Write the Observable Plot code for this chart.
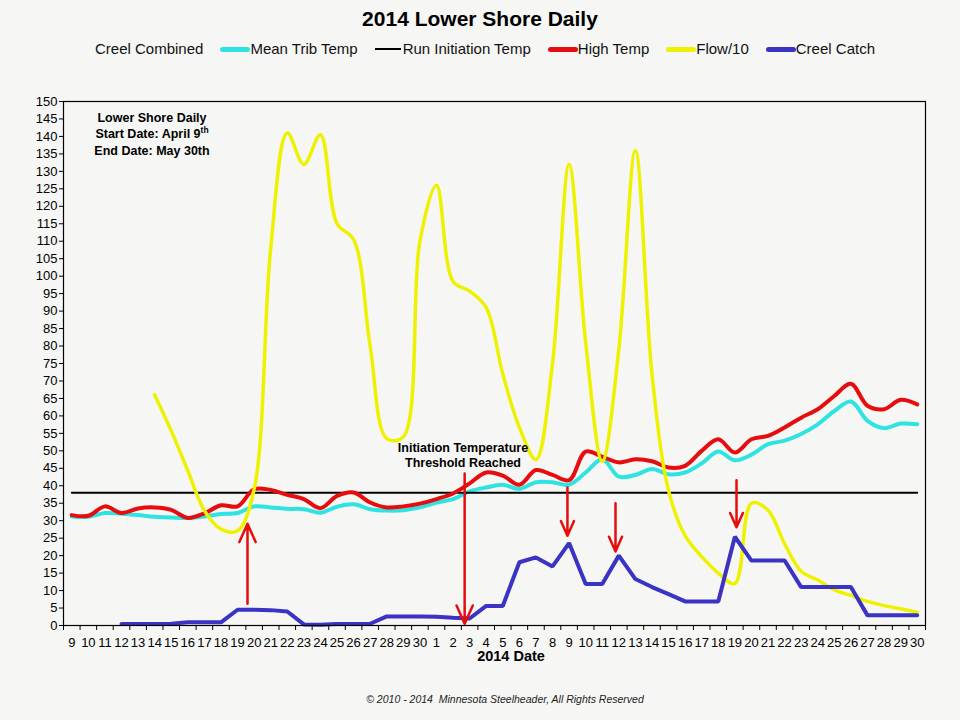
<!DOCTYPE html>
<html>
<head>
<meta charset="utf-8">
<script src="https://cdn.jsdelivr.net/npm/d3@7"></script>
<script src="https://cdn.jsdelivr.net/npm/@observablehq/plot@0.6"></script>
<style>
  body { margin: 0; background: #f6f6f4; font-family: "Liberation Sans", Arial, sans-serif; }
  #wrap { position: relative; width: 960px; height: 720px; overflow: hidden; }
  #chart { position: absolute; left: 0; top: 0; }
  #title { position: absolute; top: 6px; left: 0; width: 960px; text-align: center; font-weight: bold; font-size: 21px; line-height: 26px; color: #000; }
  #legend { position: absolute; top: 40px; left: 95px; display: flex; align-items: center; gap: 17px; font-size: 15px; line-height: 18px; color: #111; white-space: nowrap; }
  .item { display: flex; align-items: center; }
  .sw { display: inline-block; width: 30px; height: 5px; border-radius: 3px; }
  #box { position: absolute; left: 78px; top: 110px; width: 148px; text-align: center; font-weight: bold; font-size: 12.5px; line-height: 16.3px; }
  #box sup { font-size: 8.5px; line-height: 0; vertical-align: 5px; }
  #xtitle { position: absolute; top: 649px; left: 461px; width: 100px; text-align: center; font-weight: bold; font-size: 14.5px; line-height: 15px; }
  #caption { position: absolute; top: 693px; left: 330px; width: 350px; text-align: center; font-size: 10.5px; font-style: italic; color: #222; }
</style>
</head>
<body>
<div id="wrap">
  <div id="chart"></div>
  <div id="title">2014 Lower Shore Daily</div>
  <div id="legend"></div>
  <div id="box">Lower Shore Daily<br>Start Date: April 9<sup>th</sup><br>End Date: May 30th</div>
  <div id="xtitle">2014 Date</div>
  <div id="caption">© 2010 - 2014&nbsp; Minnesota Steelheader, All Rights Reserved</div>
</div>
<script>
// Day labels (April 9 .. April 30, May 1 .. May 30)
const dayLabels = [9,10,11,12,13,14,15,16,17,18,19,20,21,22,23,24,25,26,27,28,29,30,
                   1,2,3,4,5,6,7,8,9,10,11,12,13,14,15,16,17,18,19,20,21,22,23,24,25,26,27,28,29,30];

const meanTribTemp = [31.2,31.1,32.2,32.0,31.6,31.1,30.9,30.8,31.2,31.9,32.2,34.1,33.8,33.4,33.3,32.3,34.0,34.7,
  33.3,32.9,33.0,33.8,35.2,36.2,38.4,39.5,40.3,39.1,41.0,41.0,40.3,43.8,47.6,42.6,43.1,44.8,43.3,43.8,46.4,49.8,
  47.3,48.9,51.9,52.9,54.8,57.6,61.4,64.1,58.6,56.5,57.8,57.6];

const runInitiationTemp = 38;

const highTemp = [31.6,31.4,34.1,32.2,33.5,33.8,33.1,30.8,32.1,34.4,34.1,39.0,38.8,37.4,36.2,33.6,37.1,38.1,
  35.2,33.8,34.1,34.9,36.2,37.8,40.7,43.8,42.9,40.3,44.5,43.1,41.6,49.8,48.3,46.7,47.6,47.0,45.2,45.7,50.0,53.3,
  49.5,53.3,54.3,56.7,59.5,61.9,65.7,69.2,62.9,61.9,64.6,63.3];

const flowDiv10 = [null,null,null,null,null,66,55.7,44.3,32.9,27.6,27.1,39,108,141,132,140.5,115,110.5,
  80,53.5,54,110,126,98.5,95.7,91,72,56.7,47.5,75,132,81,47,79,136,72,38.6,25.7,19.7,15,
  12,35,33,23.4,15.5,13,10.2,8.6,6.9,5.7,4.8,3.8];

const creelCatch = [null,null,null,0.4,0.4,0.4,0.5,0.9,0.9,0.9,4.5,4.5,4.4,4.0,0.3,0.2,0.4,0.4,
  0.5,2.6,2.6,2.6,2.5,2.2,2.0,5.6,5.6,18.1,19.5,16.9,23.6,11.9,11.9,20.0,13.3,11.0,9.0,6.9,6.9,6.9,
  25.4,18.6,18.6,18.6,11.0,11.0,11.0,11.0,2.9,2.9,2.9,2.9];

// Hand-drawn arrow annotations (day index, from value, to value)
const arrowDay  = [10.6, 23.7, 29.9, 32.8, 40.1];
const arrowFrom = [6.2, 43.5, 39.5, 35.0, 41.6];
const arrowTo   = [29.1, 0.5, 25.7, 21.2, 28.1];

const noteText = ["Initiation Temperature\nThreshold Reached"];
const noteDay = [23.6];
const noteValue = [48.9];

const yTicks = d3.range(0, 151, 5);

const colors = {
  cyan: "#2fe3e3",
  black: "#000000",
  red: "#e50d0d",
  yellow: "#eef200",
  blue: "#3b33c4"
};

// Legend
const legendItems = [
  {label: "Creel Combined", color: null},
  {label: "Mean Trib Temp", color: colors.cyan},
  {label: "Run Initiation Temp", color: colors.black, thin: true},
  {label: "High Temp", color: colors.red},
  {label: "Flow/10", color: colors.yellow},
  {label: "Creel Catch", color: colors.blue}
];
const legend = document.getElementById("legend");
for (const it of legendItems) {
  const d = document.createElement("span");
  d.className = "item";
  if (it.color) {
    const s = document.createElement("span");
    s.className = "sw";
    s.style.background = it.color;
    if (it.thin) { s.style.height = "2px"; s.style.width = "26px"; s.style.borderRadius = "0"; s.style.marginRight = "2px"; }
    d.appendChild(s);
  }
  d.appendChild(document.createTextNode(it.label));
  legend.appendChild(d);
}

const rows = dayLabels.map((lab, i) => ({
  i, lab,
  meanTrib: meanTribTemp[i],
  runInit: runInitiationTemp,
  high: highTemp[i],
  flow: flowDiv10[i],
  creel: creelCatch[i]
}));
const arrows = arrowDay.map((x, k) => ({x, from: arrowFrom[k], to: arrowTo[k]}));
const notes = noteText.map((t, k) => ({t, x: noteDay[k], y: noteValue[k]}));
const boundaries = d3.range(-0.5, 52, 1);

const chart = Plot.plot({
  width: 960,
  height: 720,
  marginTop: 101,
  marginBottom: 95,
  marginLeft: 63,
  marginRight: 35,
  style: {background: "transparent", fontFamily: "Liberation Sans, Arial, sans-serif", color: "#000"},
  x: {domain: [-0.5, 51.5], axis: null},
  y: {domain: [0, 150], axis: null},
  marks: [
    Plot.axisY({ticks: yTicks, tickSize: 4, tickPadding: 2, fontSize: 13, label: null, stroke: "#000"}),
    Plot.axisX({ticks: boundaries, tickSize: 5, tickFormat: () => "", label: null}),
    Plot.axisX({ticks: d3.range(dayLabels.length), tickSize: 0, tickPadding: 12, fontSize: 13,
                tickFormat: i => dayLabels[i], label: null}),
    Plot.line(rows, {x: "i", y: "meanTrib", stroke: colors.cyan, strokeWidth: 4, curve: "catmull-rom"}),
    Plot.line(rows, {x: "i", y: "runInit", stroke: colors.black, strokeWidth: 2}),
    Plot.line(rows, {x: "i", y: "high", stroke: colors.red, strokeWidth: 4, curve: "catmull-rom"}),
    Plot.line(rows, {x: "i", y: "flow", stroke: colors.yellow, strokeWidth: 3.5, curve: "catmull-rom"}),
    Plot.line(rows, {x: "i", y: "creel", stroke: colors.blue, strokeWidth: 4, strokeLinejoin: "miter"}),
    Plot.arrow(arrows, {x1: "x", x2: "x", y1: "from", y2: "to", stroke: colors.red, strokeWidth: 2.5,
                        headLength: 12, headAngle: 48, insetEnd: 0, insetStart: 0}),
    Plot.text(notes, {x: "x", y: "y", text: "t", fontWeight: "bold", fontSize: 12.5, lineHeight: 1.25, fill: "#000"}),
    Plot.frame({stroke: "#000", strokeWidth: 1.2})
  ]
});
document.getElementById("chart").appendChild(chart);
</script>
</body>
</html>
